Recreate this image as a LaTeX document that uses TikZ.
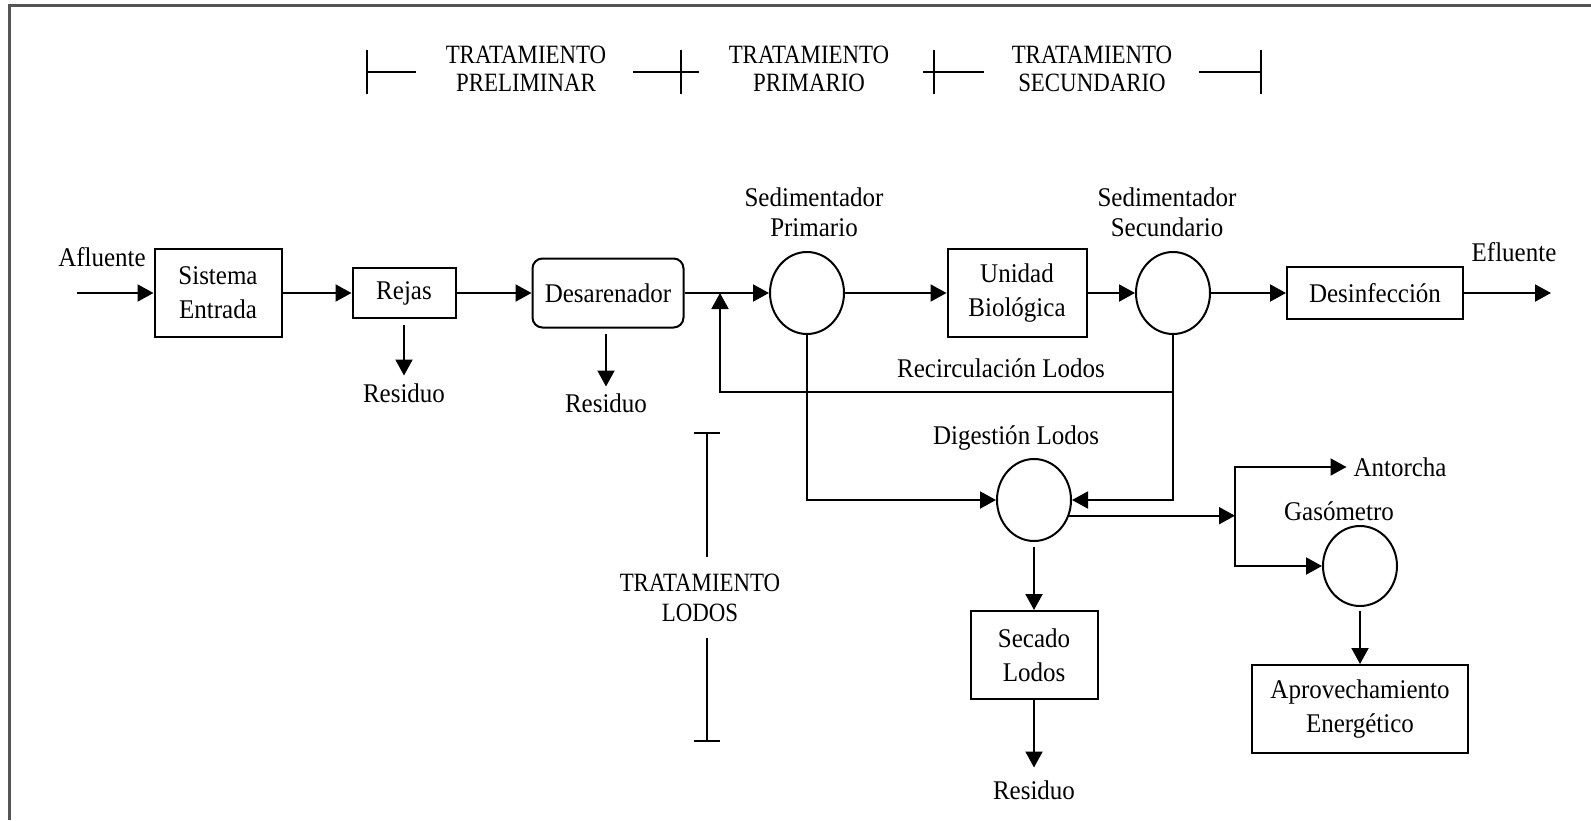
\documentclass[tikz,border=0pt]{standalone}
\usepackage{fontspec}
\setmainfont{Liberation Serif}[FakeStretch=0.926]
\newfontfamily\capsfont{Liberation Serif}[FakeStretch=0.867]
\usetikzlibrary{arrows.meta, shapes.geometric}

\definecolor{framegray}{HTML}{555555}

\begin{document}
\begin{tikzpicture}[x=0.5pt, y=-0.5pt, >={Triangle[length=8pt, width=8.5pt]}, line width=1pt,
    font=\fontsize{13.5}{17}\selectfont,
    box/.style={draw, rectangle, align=center, inner sep=0pt},
    tank/.style={draw, ellipse, minimum width=37pt, minimum height=41pt, inner sep=0pt},
    tag/.style={align=center, inner sep=1pt},
    stage/.style={align=center, inner sep=1pt, font=\capsfont\fontsize{13.2}{14}\selectfont}]

    \useasboundingbox (0,0) rectangle (1591,820);

    %define the frame
    \draw[framegray, line width=1.5pt] (9,820) -- (9,5) -- (1591,5);

    %define the units of the plant
    \node[box, minimum width=63.5pt, minimum height=44pt] (entrada) at (218,293) {Sistema\\Entrada};
    \node[box, minimum width=51.5pt, minimum height=25pt] (rejas) at (404,293) {Rejas};
    \node[box, rounded corners=5pt, minimum width=75.5pt, minimum height=34.5pt] (desar) at (608,293) {Desarenador};
    \node[tank] (sp) at (807,293) {};
    \node[box, minimum width=69.5pt, minimum height=44pt] (unidad) at (1017,293) {Unidad\\Biológica};
    \node[tank] (ss) at (1173,293) {};
    \node[box, minimum width=88pt, minimum height=26pt] (desinf) at (1375,293) {Desinfección};
    \node[tank] (dig) at (1034,500) {};
    \node[tank, minimum height=40pt] (gas) at (1360,566) {};
    \node[box, minimum width=63.5pt, minimum height=44pt] (secado) at (1034,655) {Secado\\Lodos};
    \node[box, minimum width=108pt, minimum height=44pt] (aprov) at (1360,709) {Aprovechamiento\\Energético};

    %define the labels
    \node[tag] (afl) at (102,257) {Afluente};
    \node[tag] (efl) at (1514,252) {Efluente};
    \node[tag, font=\fontsize{13.5}{15}\selectfont] (lsp) at (814,212) {Sedimentador\\Primario};
    \node[tag, font=\fontsize{13.5}{15}\selectfont] (lss) at (1167,212) {Sedimentador\\Secundario};
    \node[tag] (lrec) at (1001,368) {Recirculación Lodos};
    \node[tag] (ldig) at (1016,438) {Digestión Lodos};
    \node[tag] (lgas) at (1339,511) {Gasómetro};
    \node[tag] (ant) at (1400,467) {Antorcha};
    \node[tag] (res1) at (404,393) {Residuo};
    \node[tag] (res2) at (606,403) {Residuo};
    \node[tag] (res3) at (1034,790) {Residuo};

    %define the stages
    \node[stage] (tp1) at (526,69) {TRATAMIENTO\\PRELIMINAR};
    \node[stage] (tp2) at (809,69) {TRATAMIENTO\\PRIMARIO};
    \node[stage] (tp3) at (1092,69) {TRATAMIENTO\\SECUNDARIO};
    \node[stage, font=\capsfont\fontsize{13.2}{15}\selectfont] (tl) at (700,598) {TRATAMIENTO\\LODOS};

    \draw (367,50) -- (367,94) (367,72) -- (416,72);
    \draw (633,72) -- (699,72) (681,50) -- (681,94);
    \draw (923,72) -- (984,72) (934,50) -- (934,94);
    \draw (1199,72) -- (1261,72) (1261,50) -- (1261,94);
    \draw (694,433) -- (720,433) (707,433) -- (707,557)
          (707,638) -- (707,741) (694,741) -- (720,741);

    %define the points on the lines
    \coordinate (in) at (77,293);
    \coordinate (out) at (1551,293);
    \coordinate (jn) at (720,293);
    \coordinate (rc) at (720,392);
    \coordinate (gj) at (1235,516);

    %define the water line
    \path[->] (in) edge (entrada)
    (entrada) edge (rejas)
    (rejas) edge (desar)
    (desar) edge (sp)
    (sp) edge (unidad)
    (unidad) edge (ss)
    (ss) edge (desinf)
    (desinf) edge (out);

    \draw[->, shorten <=3pt, shorten >=2.5pt] (rejas) -- (res1);
    \draw[->, shorten <=2.5pt, shorten >=2pt] (desar.south -| res2) -- (res2);

    %define the sludge line
    \draw[->] (rc -| ss) -- (rc) -- (jn);
    \draw[->] (ss) |- (dig);
    \draw[->] (sp) |- (dig);
    \draw[->] (dig.-24) -- (dig.-24 -| gj);
    \draw[->, shorten >=2pt] (gj) |- (ant.west);
    \draw[->] (gj) |- (gas);
    \draw[->, shorten <=2pt] (gas) -- (aprov);
    \draw[->, shorten <=2.5pt] (dig) -- (secado);
    \draw[->, shorten >=5pt] (secado) -- (res3);
\end{tikzpicture}
\end{document}
